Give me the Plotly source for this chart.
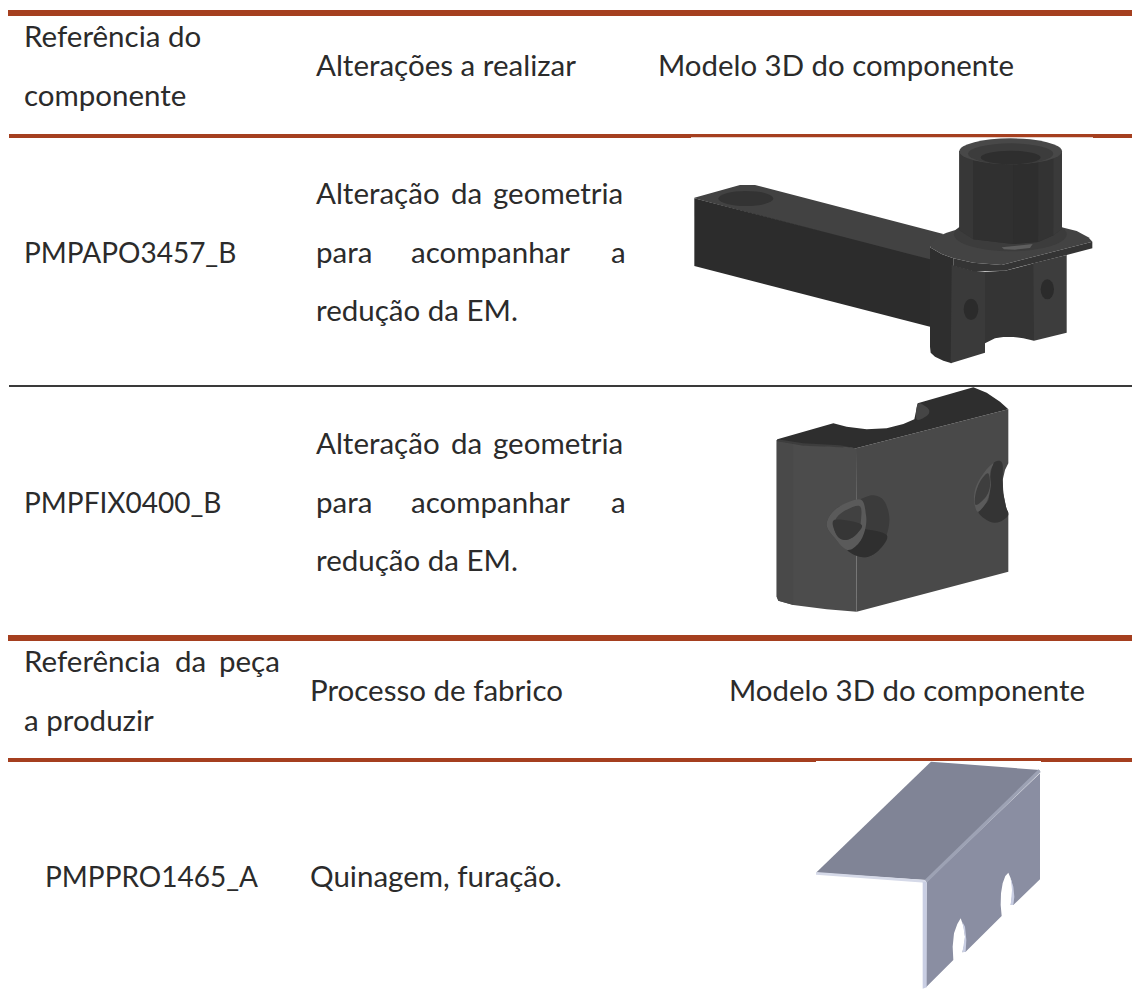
import plotly.graph_objects as go

# ---------- table text: (text, left x, baseline y, size) ----------
TEXT_WORDS = ["Referência do", "componente", "Alterações a realizar", "Modelo 3D do componente",
              "PMPAPO3457_B", "Alteração", "da", "geometria", "para", "acompanhar", "a", "redução da EM.",
              "PMPFIX0400_B", "Alteração", "da", "geometria", "para", "acompanhar", "a", "redução da EM.",
              "Referência", "da", "peça", "a produzir", "Processo de fabrico", "Modelo 3D do componente",
              "PMPPRO1465_A", "Quinagem, furação."]
TEXT_X = [24, 24, 316, 658,
          24, 316, 451, 493, 316, 411, 611, 316,
          24, 316, 451, 493, 316, 411, 611, 316,
          24, 175, 219, 24, 310, 729,
          45, 310]
TEXT_BASE = [47, 106, 76, 76,
             263, 204, 204, 204, 263, 263, 263, 321,
             513, 454, 454, 454, 513, 513, 513, 571,
             672, 672, 672, 731, 701, 701,
             887, 887]
TEXT_SIZE = [29.5, 29.5, 29.5, 29.4,
             28, 29.5, 29.5, 29.5, 29.5, 29.5, 29.5, 29.5,
             28, 29.5, 29.5, 29.5, 29.5, 29.5, 29.5, 29.5,
             29.5, 29.5, 29.5, 29.5, 29.5, 29.4,
             28, 29.5]

# ---------- horizontal rules ----------
RULE_TOP = [10, 134, 385, 635, 758]
RULE_BOTTOM = [16, 138, 387, 641, 762]
RULE_LEFT = [8, 9, 9, 8, 8]
RULE_COLOR = ["#A53F1F", "#A53F1F", "#3A3A3A", "#A53F1F", "#A53F1F"]

# ---------- drawings, in crop units (3 units = 1 px) ----------
M1 = (680, 130)
M2 = (760, 380)
M3 = (800, 750)

ARM_TOP = [(43,203),(180,165),(225,165),(790,312),(750,350),(750,392),(43,205)]
ARM_SIDE = [(43,205),(750,388),(750,590),(43,408)]
ARM_HOLE = (115,183,280,228)
CYL_X = [838, 880, 1000, 1075, 1120, 1146]
CYL_BOTTOM = [300, 328, 342, 336, 316, 296]
CYL_COLORS = ["#373737", "#303030", "#2E2E2E", "#333333", "#3A3A3A"]
CYL_RIM = (838,25,1146,103)
CYL_INNER = (864,40,1120,103)
CYL_HOLE = (902,62,1082,103)
FILLET = (822,262,1160,364)
BASE_GLINT = [(965,352),(1010,347),(1058,342),(1050,354),(1005,359),(972,358)]
FLANGE_TOP = [(750,352),(753,340),(765,328),(782,316),(800,308),(838,296),(1145,292),(1190,303),(1225,322),(1237,335),
              (965,405),(880,398),(820,385),(785,372)]
FLANGE_EDGE = [(820,385),(880,398),(965,405),(1237,335),(1237,355),(1160,375),(975,422),(880,424),(820,408)]
COL_LEFT = [(750,352),(785,372),(820,385),(820,408),(815,700),(790,692),(765,680),(752,668),(750,650)]
COL_FACE = [(815,405),(880,422),(915,425),(915,668),(812,700)]
COL_MID = [(915,425),(975,422),(1062,400),(1062,632),(1030,625),(1000,621),(970,621),(945,625),(915,640)]
COL_RIGHT = [(1060,400),(1160,375),(1160,608),(1062,632)]
M1_HOLES = [(851,506,895,570),(1082,448,1122,508)]

BLOCK_TOP = [(52,178),(220,130),(260,140),(320,148),(380,145),(430,132),(463,118),(473,70),(640,22),(680,38),(720,65),(745,88),
             (288,205),(240,200),(130,195),(52,182)]
BLOCK_EDGE = [(52,178),(130,190),(240,196),(288,205),(240,202),(130,197),(52,184)]
BLOCK_TOP_NOTCH = [(473,72),(495,78),(508,92),(500,108),(470,118)]
BLOCK_RIGHT = [(288,205),(745,88),(745,250),(735,270),(728,300),(730,340),(738,380),(745,405),(745,575),(290,695)]
BLOCK_LEFT = [(50,180),(130,195),(240,200),(288,205),(290,695),(200,688),(100,675),(55,662),(50,650)]
BLOCK_LEFT_SHADE = [(50,180),(100,190),(100,675),(55,662),(50,650)]
CRATER = [(200,432),(230,385),(300,358),(340,346),(372,362),(388,412),(380,465),(355,512),(310,532),(262,510),(225,475)]
CRATER_LOW = [(300,448),(380,465),(355,512),(310,532),(262,510),(285,480)]
RING = [(200,432),(230,385),(300,358),(318,405),(315,450),(296,490),(262,510),(225,475)]
HOLE_A = [(222,430),(245,398),(298,378),(303,420),(292,460),(260,480),(232,468)]
HOLE_LOW = [(222,420),(302,432),(292,460),(260,480),(232,468)]
CRATER_C = [(700,250),(726,248),(728,300),(730,340),(738,380),(745,405),(720,425),(690,425),(655,395),(685,360),(690,300)]
RING_C = [(700,250),(672,278),(650,315),(642,350),(645,378),(655,395),(680,365),(692,320),(690,278)]
HOLE_C = [(684,280),(690,318),(678,350),(648,375),(646,345),(660,305)]

BEND_TOP = [(48,368),(393,35),(720,60),(378,390)]
BEND_FOLD = [(374,390),(716,58),(722,66),(380,398)]
BEND_SIDE = [(380,395),(720,70),(720,388),(640,465),(632,465),(636,440),(638,420),(636,400),(632,385),(625,368),(616,378),(608,400),
             (603,430),(602,465),(605,498),(497,605),(487,607),(493,585),(495,560),(491,530),(482,505),(472,522),(462,550),(458,590),(460,630),(378,712)]
BEND_EDGE = [(48,366),(376,390),(376,398),(48,374)]
BEND_POST = [(368,395),(380,395),(380,712),(368,716)]
BEND_SLOT_EDGES = [[(632,465),(640,465),(643,440),(640,410),(632,385),(636,420)],
                   [(487,607),(497,605),(499,570),(495,530),(487,515),(495,560)]]

TEXT_COLOR = "#2B2B2B"


def poly(pts, origin, color):
    ox, oy = origin
    d = "M " + " L ".join(f"{ox + x / 3:.2f} {oy + y / 3:.2f}" for x, y in pts) + " Z"
    return dict(type="path", path=d, fillcolor=color, line=dict(width=0), xref="x", yref="y", layer="below")


def blob(pts, origin, color):
    """Closed Catmull-Rom outline through the listed points."""
    ox, oy = origin
    p = [(ox + x / 3, oy + y / 3) for x, y in pts]
    n = len(p)
    d = f"M {p[0][0]:.2f} {p[0][1]:.2f}"
    for i in range(n):
        a, b, c, e = p[i - 1], p[i], p[(i + 1) % n], p[(i + 2) % n]
        c1 = (b[0] + (c[0] - a[0]) / 6, b[1] + (c[1] - a[1]) / 6)
        c2 = (c[0] - (e[0] - b[0]) / 6, c[1] - (e[1] - b[1]) / 6)
        d += f" C {c1[0]:.2f} {c1[1]:.2f} {c2[0]:.2f} {c2[1]:.2f} {c[0]:.2f} {c[1]:.2f}"
    d += " Z"
    return dict(type="path", path=d, fillcolor=color, line=dict(width=0), xref="x", yref="y", layer="below")


def oval(box, origin, color):
    ox, oy = origin
    x0, y0, x1, y1 = box
    return dict(type="circle", x0=ox + x0 / 3, y0=oy + y0 / 3, x1=ox + x1 / 3, y1=oy + y1 / 3,
                fillcolor=color, line=dict(width=0), xref="x", yref="y", layer="below")


shapes = []
for t, b, l, c in zip(RULE_TOP, RULE_BOTTOM, RULE_LEFT, RULE_COLOR):
    shapes.append(dict(type="rect", x0=l, x1=1132, y0=t, y1=b, fillcolor=c, line=dict(width=0),
                       xref="x", yref="y", layer="below"))
# white picture boxes that clip the rules' lower edge
shapes.append(dict(type="rect", x0=691, x1=1093, y0=137.3, y1=138.2, fillcolor="white", line=dict(width=0), xref="x", yref="y", layer="below"))
shapes.append(dict(type="rect", x0=816, x1=1041, y0=761, y1=762.2, fillcolor="white", line=dict(width=0), xref="x", yref="y", layer="below"))

# model 1
shapes += [poly(ARM_TOP, M1, "#424242"), poly(ARM_SIDE, M1, "#2C2C2C"), oval(ARM_HOLE, M1, "#333333")]
shapes += [poly(COL_LEFT, M1, "#2E2E2E"), poly(COL_MID, M1, "#343434"), poly(COL_RIGHT, M1, "#3D3D3D"), poly(COL_FACE, M1, "#3A3A3A")]
shapes += [poly(FLANGE_TOP, M1, "#434343"), poly(FLANGE_EDGE, M1, "#343434")]
shapes += [oval(FILLET, M1, "#3C3C3C"), poly(BASE_GLINT, M1, "#5E5E5E")]
# solid body under the shading bands so no pale seams show between them
shapes.append(poly([(CYL_X[0], 63), (CYL_X[-1], 63)] + list(zip(CYL_X[::-1], CYL_BOTTOM[::-1])), M1, "#323232"))
for i, c in enumerate(CYL_COLORS):
    shapes.append(poly([(CYL_X[i], 63), (CYL_X[i + 1], 63), (CYL_X[i + 1], CYL_BOTTOM[i + 1]), (CYL_X[i], CYL_BOTTOM[i])], M1, c))
shapes += [oval(CYL_RIM, M1, "#484848"), oval(CYL_INNER, M1, "#3C3C3C"), oval(CYL_HOLE, M1, "#2E2E2E")]
for h in M1_HOLES:
    shapes.append(oval(h, M1, "#2B2B2B"))

# model 2
shapes += [poly(BLOCK_LEFT, M2, "#4C4C4C"), poly(BLOCK_LEFT_SHADE, M2, "#494949"), poly(BLOCK_RIGHT, M2, "#494949"),
           poly(BLOCK_TOP, M2, "#2E2E2E"), poly(BLOCK_EDGE, M2, "#3D3D3D"),
           blob(BLOCK_TOP_NOTCH, M2, "#454545"),
           blob(CRATER, M2, "#3B3B3B"), blob(CRATER_LOW, M2, "#2F2F2F"), blob(RING, M2, "#5A5A5A"),
           blob(HOLE_A, M2, "#414141"), blob(HOLE_LOW, M2, "#363636"),
           blob(CRATER_C, M2, "#343434"), blob(RING_C, M2, "#5A5A5A"), blob(HOLE_C, M2, "#3E3E3E")]

# model 3
shapes += [poly(BEND_TOP, M3, "#808496"), poly(BEND_SIDE, M3, "#8A8EA2"), poly(BEND_FOLD, M3, "#9DA2B4"),
           poly(BEND_EDGE, M3, "#D5D9E8"), poly(BEND_POST, M3, "#C9CEE3")]
for e in BEND_SLOT_EDGES:
    shapes.append(poly(e, M3, "#C9CEE3"))

fig = go.Figure(go.Scatter(
    x=TEXT_X,
    y=[b - 0.245 * s for b, s in zip(TEXT_BASE, TEXT_SIZE)],
    text=TEXT_WORDS,
    mode="text",
    textposition="middle right",
    textfont=dict(family="Lato", size=TEXT_SIZE, color=TEXT_COLOR),
    hoverinfo="skip",
    showlegend=False,
))
fig.update_layout(
    width=1132, height=1007, autosize=False,
    margin=dict(l=0, r=0, t=0, b=0),
    paper_bgcolor="white", plot_bgcolor="white",
    xaxis=dict(range=[0, 1132], visible=False, fixedrange=True),
    yaxis=dict(range=[1007, 0], visible=False, fixedrange=True),
    shapes=shapes,
)
fig.write_html("out.html", post_script="document.body.style.margin='0';document.body.style.overflow='hidden';",
               config=dict(displayModeBar=False))
